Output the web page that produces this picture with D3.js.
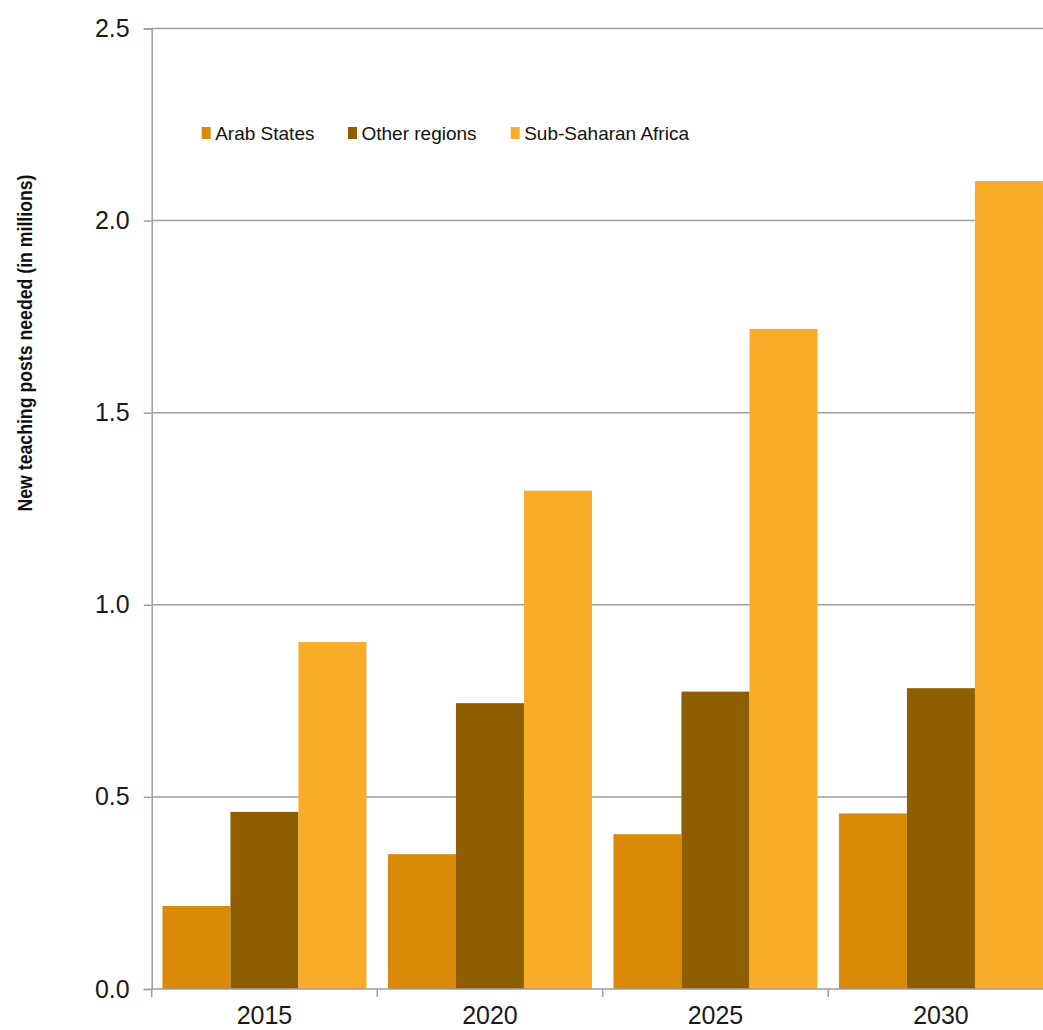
<!DOCTYPE html>
<html>
<head>
<meta charset="utf-8">
<script src="https://cdn.jsdelivr.net/npm/d3@7"></script>
<style>
  html, body { margin: 0; padding: 0; background: #fff; }
  svg { display: block; font-family: "Liberation Sans", Arial, sans-serif; }
</style>
</head>
<body>
<svg id="chart" width="1043" height="1030"></svg>
<script>
// Projected new teaching posts needed, in millions
const years = ["2015", "2020", "2025", "2030"];
const seriesNames = ["Arab States", "Other regions", "Sub-Saharan Africa"];
const arabStates = [0.216, 0.351, 0.403, 0.457];
const otherRegions = [0.461, 0.744, 0.774, 0.783];
const subSaharanAfrica = [0.903, 1.297, 1.718, 2.103];
const seriesColors = ["#D98A07", "#8E5E00", "#F9AC27"];
const yTicks = [0, 0.5, 1.0, 1.5, 2.0, 2.5];
const yTitle = "New teaching posts needed (in millions)";

const seriesValues = [arabStates, otherRegions, subSaharanAfrica];
const rows = years.map((yr, i) => ({
  year: yr,
  values: seriesNames.map((name, s) => ({ name, value: seriesValues[s][i], color: seriesColors[s] }))
}));

const svg = d3.select("#chart");
const plotLeft = 151.7, plotTop = 28.5, plotBottom = 989;
const catStep = 225.5;
const plotRight = plotLeft + catStep * years.length;

const x0 = d3.scaleBand().domain(years).range([plotLeft, plotRight]).padding(0);
const x1 = d3.scaleBand().domain(seriesNames).range([0, x0.bandwidth()]).paddingInner(0).paddingOuter(0.158);
const y = d3.scaleLinear().domain([0, 2.5]).range([plotBottom, plotTop]);

const gridColor = "#9E9E9E";

// Horizontal gridlines
svg.append("g")
  .selectAll("line")
  .data(yTicks.filter(t => t > 0))
  .join("line")
  .attr("x1", plotLeft).attr("x2", plotRight)
  .attr("y1", d => y(d)).attr("y2", d => y(d))
  .attr("stroke", gridColor).attr("stroke-width", 1.5);

// Bars
svg.append("g")
  .selectAll("g")
  .data(rows)
  .join("g")
  .attr("transform", d => `translate(${x0(d.year)},0)`)
  .selectAll("rect")
  .data(d => d.values)
  .join("rect")
  .attr("x", d => x1(d.name))
  .attr("width", x1.bandwidth())
  .attr("y", d => y(d.value))
  .attr("height", d => y(0) - y(d.value))
  .attr("fill", d => d.color);

// Y axis
const yAxis = svg.append("g")
  .attr("transform", `translate(${plotLeft},0)`)
  .call(d3.axisLeft(y).tickValues(yTicks).tickFormat(d3.format(".1f")).tickSize(8).tickPadding(14));
yAxis.select(".domain").attr("stroke", gridColor).attr("stroke-width", 1.5);
yAxis.selectAll(".tick line").attr("stroke", gridColor).attr("stroke-width", 1.5);
yAxis.selectAll(".tick text")
  .attr("font-size", 25).attr("fill", "#1a1a1a")
  .attr("font-family", "'Liberation Sans', Arial, sans-serif");

// X axis with ticks at category boundaries
const xAxisG = svg.append("g").attr("transform", `translate(0,${plotBottom})`);
xAxisG.append("line")
  .attr("x1", plotLeft).attr("x2", plotRight)
  .attr("stroke", gridColor).attr("stroke-width", 1.5);
xAxisG.selectAll("line.bound")
  .data(years.concat(["end"]))
  .join("line")
  .attr("class", "bound")
  .attr("x1", (d, i) => plotLeft + i * x0.step())
  .attr("x2", (d, i) => plotLeft + i * x0.step())
  .attr("y1", 0).attr("y2", 8)
  .attr("stroke", gridColor).attr("stroke-width", 1.5);
xAxisG.selectAll("text")
  .data(years)
  .join("text")
  .attr("x", d => x0(d) + x0.bandwidth() / 2)
  .attr("y", 35)
  .attr("text-anchor", "middle")
  .attr("font-size", 25)
  .attr("fill", "#1a1a1a")
  .text(d => d);

// Y axis title (bold, slightly condensed)
svg.append("text")
  .attr("transform", `translate(32,343) rotate(-90)`)
  .attr("text-anchor", "middle")
  .attr("font-size", 20)
  .attr("font-weight", "bold")
  .attr("fill", "#111")
  .attr("textLength", 337)
  .attr("lengthAdjust", "spacingAndGlyphs")
  .text(yTitle);

// Legend
const legendX = [201.7, 348, 510.7];
const legend = svg.append("g");
seriesNames.forEach((name, i) => {
  legend.append("rect")
    .attr("x", legendX[i]).attr("y", 127)
    .attr("width", 9).attr("height", 12)
    .attr("fill", seriesColors[i]);
  legend.append("text")
    .attr("x", legendX[i] + 13.5).attr("y", 140)
    .attr("font-size", 19)
    .attr("fill", "#111")
    .text(name);
});
</script>
</body>
</html>
